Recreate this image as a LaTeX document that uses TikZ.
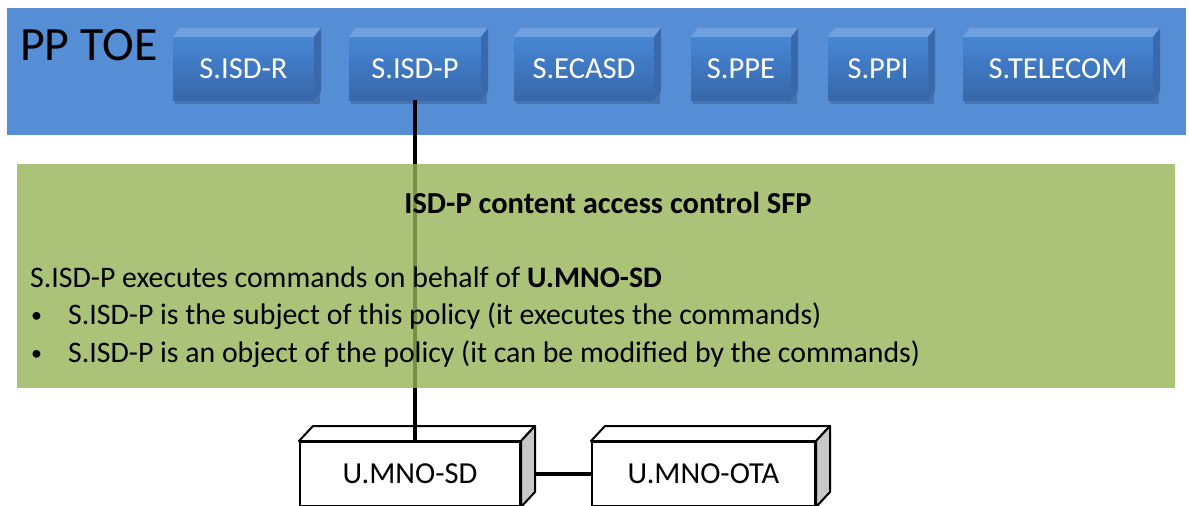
\documentclass[tikz,border=0pt]{standalone}
\usepackage{fontspec}
\setmainfont{Carlito}
\usetikzlibrary{calc}
\definecolor{bgblue}{HTML}{558ED5}
\definecolor{bfront1}{HTML}{4786D6}
\definecolor{bfront2}{HTML}{3767A9}
\definecolor{btop}{HTML}{6FA1E0}
\definecolor{bside}{HTML}{3A69AB}
\definecolor{sfpgreen}{rgb}{0.589,0.711,0.343}
\definecolor{wside}{HTML}{C8C8C8}
\tikzset{
  bluebox/.style={inner sep=0pt, top color=bfront1, bottom color=bfront2, text=white,
    minimum height=63pt, font=\fontsize{30.5}{36}\selectfont},
  whitebox/.style={inner sep=0pt, fill=white, draw=black, line width=2pt,
    minimum height=64pt, font=\fontsize{30.5}{36}\selectfont},
  conn/.style={line width=3.6pt, black},
  bodytext/.style={anchor=base west, inner sep=0pt, font=\fontsize{29.8}{35}\selectfont}
}
\newcommand{\blueside}[1]{%
  \fill[btop] (#1.north west) -- ++(7,-9) -- ($(#1.north east)+(7,-9)$) -- (#1.north east) -- cycle;
  \fill[bside] (#1.north east) -- ++(7,-9) -- ($(#1.south east)+(7,-9)$) -- (#1.south east) -- cycle;
}
\newcommand{\whiteside}[1]{%
  \filldraw[fill=white, draw=black, line width=2pt, line join=round] (#1.north west) -- ++(14,-15) -- ($(#1.north east)+(14,-15)$) -- (#1.north east) -- cycle;
  \filldraw[fill=wside, draw=black, line width=2pt, line join=round] (#1.north east) -- ++(14,-15) -- ($(#1.south east)+(14,-15)$) -- (#1.south east) -- cycle;
}
\begin{document}
\begin{tikzpicture}[x=1pt,y=-1pt]
\useasboundingbox (0,0) rectangle (1189,506);
\fill[white] (0,0) rectangle (1189,506);
% blue TOE band
\node[fill=bgblue, inner sep=0pt, minimum width=1179pt, minimum height=127pt] (toe) at (596.5,71.5) {};
\node[anchor=base west, inner sep=0pt, font=\fontsize{47.8}{52}\selectfont] (toelabel) at (20,60) {PP TOE};
% blue subject boxes
\foreach \n/\cx/\w/\t in {isdr/243.5/141/S.ISD-R, isdp/415/132/S.ISD-P, ecasd/584/140/S.ECASD, ppe/741/100/S.PPE, ppi/878/100/S.PPI, telecom/1058/190/S.TELECOM}{
  \fill[black, opacity=0.18] (\cx-\w/2+2,40) rectangle (\cx+\w/2+6,104);
  \node[bluebox, minimum width=\w pt] (\n) at (\cx,68.5) {\t};
  \blueside{\n}
}
% white user boxes
\node[whitebox, minimum width=220pt] (mnosd) at (410,474) {U.MNO-SD};
\node[whitebox, minimum width=223pt] (mnoota) at (703.5,474) {U.MNO-OTA};
\whiteside{mnosd}
\whiteside{mnoota}
% connectors
\draw[conn] (isdp.south) -- (isdp.south |- mnosd.north);
\draw[conn] ($(mnosd.east)+(14,0)$) -- (mnoota.west);
% SFP box
\node[fill=sfpgreen, fill opacity=0.8, inner sep=0pt, minimum width=1158pt, minimum height=224pt] (sfp) at (596,276) {};
\node[anchor=base, inner sep=0pt, font=\bfseries\fontsize{30.5}{36}\selectfont] (sfptitle) at (608,213) {ISD-P content access control SFP};
\node[bodytext] (l1) at (30,287) {S.ISD-P executes commands on behalf of \textbf{U.MNO-SD}};
\node[bodytext, font=\fontsize{22}{26}\selectfont] (b2) at (31,322) {\textbullet};
\node[bodytext] (l2) at (68,324) {S.ISD-P is the subject of this policy (it executes the commands)};
\node[bodytext, font=\fontsize{22}{26}\selectfont] (b3) at (31,360) {\textbullet};
\node[bodytext] (l3) at (68,362) {S.ISD-P is an object of the policy (it can be modified by the commands)};
\end{tikzpicture}
\end{document}
